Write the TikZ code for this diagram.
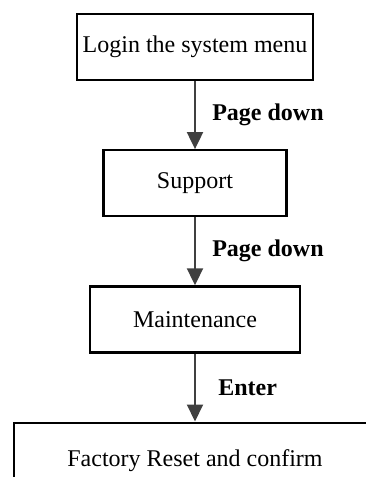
\documentclass[tikz,border=0pt]{standalone}
\usepackage{fontspec}
\setmainfont{Liberation Serif}
\usetikzlibrary{arrows.meta,positioning}

\begin{document}
\begin{tikzpicture}[font=\fontsize{24}{28}\selectfont,>={Triangle[length=17pt,width=16pt]},node distance=68pt,
 box/.style={draw,line width=2.2pt,align=center,minimum height=66pt},
 lab/.style={font=\fontsize{24}{28}\selectfont\bfseries},
 line/.style={->,line width=2pt,draw=black!75}]
\useasboundingbox (0,0) rectangle (366pt,-477pt);
\clip (0,0) rectangle (366pt,-477pt);
\node[box,minimum width=236pt] (login) at (195pt,-47pt) {Login the system menu};
\node[box,minimum width=183pt,below=of login] (support) {Support};
\node[box,minimum width=210pt,below=of support] (maint) {Maintenance};
\node[box,minimum width=362pt,minimum height=76pt,below=of maint] (reset) {Factory Reset and confirm};
\draw[line] (login) -- node[lab,right=13pt] {Page down} (support);
\draw[line] (support) -- node[lab,right=13pt] {Page down} (maint);
\draw[line] (maint) -- node[lab,right=19pt] {Enter} (reset);
\end{tikzpicture}
\end{document}
